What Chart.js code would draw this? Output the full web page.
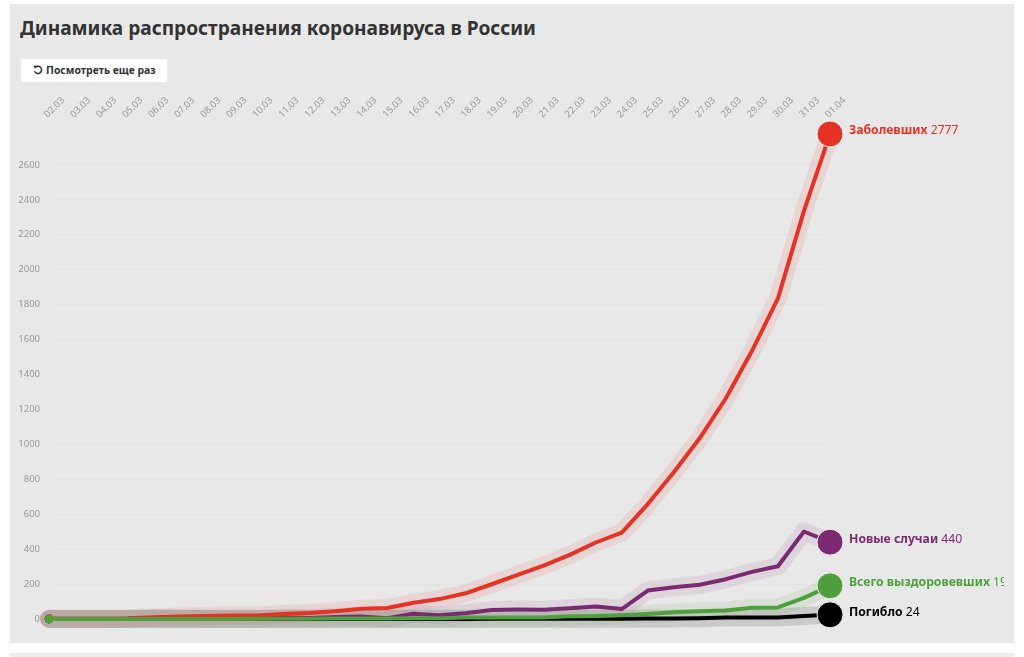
<!DOCTYPE html>
<html lang="ru">
<head>
<meta charset="utf-8">
<title>Динамика распространения коронавируса в России</title>
<script src="https://cdn.jsdelivr.net/npm/chart.js@4"></script>
<style>
html,body{margin:0;padding:0;background:#fff;width:1024px;height:657px;overflow:hidden;font-family:"Noto Sans",sans-serif}
#panel{position:absolute;left:10px;top:4px;width:1004px;height:639px;background:#e8e8e8}
#next{position:absolute;left:10px;top:653px;width:1004px;height:4px;background:#eee}
h1{position:absolute;left:20px;top:14px;margin:0;font-size:19.1px;line-height:28px;font-weight:700;color:#333}
#replay{position:absolute;left:21px;top:59px;width:146px;height:23px;background:#fff;border-radius:1px;font-size:10.4px;font-weight:700;line-height:23px;color:#333;white-space:nowrap}
#replay svg{position:absolute;left:12px;top:6px}
#replay span{position:absolute;left:25px}
#wrap{position:absolute;left:10px;top:85px;width:994px;height:558px}
</style>
</head>
<body>
<div id="panel"></div>
<div id="next"></div>
<h1>Динамика распространения коронавируса в России</h1>
<div id="replay">
<svg width="10" height="10" viewBox="0 0 10 10"><path d="M2.6 2.2A3.6 3.6 0 1 1 1.6 6.2" fill="none" stroke="#333" stroke-width="1.5"/><path d="M0.6 0.6L4.4 0.9L1.6 3.8Z" fill="#333"/></svg>
<span>Посмотреть еще раз</span>
</div>
<div id="wrap"><canvas id="chart" width="994" height="558"></canvas></div>
<script>
var dates=["02.03","03.03","04.03","05.03","06.03","07.03","08.03","09.03","10.03","11.03","12.03","13.03","14.03","15.03","16.03","17.03","18.03","19.03","20.03","21.03","22.03","23.03","24.03","25.03","26.03","27.03","28.03","29.03","30.03","31.03","01.04"];
var yTicks=[0,200,400,600,800,1000,1200,1400,1600,1800,2000,2200,2400,2600];
var cases=[3,3,3,4,10,14,17,20,20,28,34,45,59,63,93,114,147,199,253,306,367,438,495,658,840,1036,1264,1534,1836,2337,2777];
var newCases=[0,0,0,1,6,4,3,3,0,8,6,11,14,4,30,21,33,52,54,53,61,71,57,163,182,196,228,270,302,501,440];
var recovered=[0,0,0,0,0,0,0,0,1,2,2,3,3,3,5,5,8,9,9,9,16,17,22,29,38,45,49,64,66,121,190];
var deaths=[0,0,0,0,0,0,0,0,0,0,0,0,0,0,0,0,0,1,1,1,1,1,1,3,3,4,8,8,9,17,24];

var red="#e63224",purple="#7b2a72",green="#4ea03f",black="#000000";

// draw order: first in this list ends up at the bottom
var series=[
    {name:"Погибло",data:deaths,color:black,halo:"rgba(0,0,0,0.13)",labelDy:-2},
    {name:"Новые случаи",data:newCases,color:purple,halo:"rgba(123,42,114,0.1)",labelDy:-3},
    {name:"Заболевших",data:cases,color:red,halo:"rgba(230,50,36,0.1)",labelDy:-3.5},
    {name:"Всего выздоровевших",data:recovered,color:green,halo:"rgba(78,160,63,0.1)",labelDy:-3}
];

var datasets=[];
series.forEach(function(s,i){
    // wide pale band under every line
    datasets.push({
        label:s.name+" фон",data:s.data,borderColor:s.halo,borderWidth:18,borderCapStyle:"round",
        borderJoinStyle:"round",pointRadius:0,tension:0,clip:false,order:20-i
    });
});
series.forEach(function(s,i){
    datasets.push({
        label:s.name,data:s.data,borderColor:s.color,borderWidth:4,borderJoinStyle:"round",tension:0,clip:false,order:10-i,
        pointBackgroundColor:s.color,pointBorderColor:function(c){return c.dataIndex===dates.length-1?"#efefef":s.color},pointBorderWidth:1,
        pointRadius:function(c){
            if(c.dataIndex===0)return 4;
            return c.dataIndex===dates.length-1?13:0;
        }
    });
});

var endLabels={
    id:"endLabels",
    afterDatasetsDraw:function(chart){
        var ctx=chart.ctx,x=chart.scales.x,y=chart.scales.y,last=dates.length-1;
        ctx.save();
        ctx.textBaseline="middle";
        series.forEach(function(s){
            var px=x.getPixelForValue(last)+19,py=y.getPixelForValue(s.data[last])+s.labelDy;
            ctx.fillStyle=s.color;
            ctx.font="700 12.2px 'Noto Sans'";
            ctx.fillText(s.name,px,py);
            var w=ctx.measureText(s.name+" ").width;
            ctx.font="400 12.2px 'Noto Sans'";
            ctx.fillText(String(s.data[last]),px+w,py);
        });
        ctx.restore();
    }
};

new Chart(document.getElementById("chart").getContext("2d"),{
    type:"line",
    data:{labels:dates,datasets:datasets},
    plugins:[endLabels],
    options:{
        responsive:false,
        animation:false,
        layout:{padding:{left:0,right:174,top:0,bottom:24}},
        plugins:{legend:{display:false},tooltip:{enabled:false}},
        scales:{
            x:{
                position:"top",
                offset:false,
                afterFit:function(a){a.height=49},
                grid:{display:false},
                border:{display:false},
                ticks:{autoSkip:false,minRotation:45,maxRotation:45,padding:6,labelOffset:5,color:"#999",font:{family:"Noto Sans",size:9.5}}
            },
            y:{
                min:0,max:2777,
                afterFit:function(a){a.width=39},
                afterBuildTicks:function(a){a.ticks=yTicks.map(function(v){return {value:v}})},
                grid:{color:"#e3e3e3",lineWidth:1,drawTicks:false},
                border:{color:"#e3e3e3"},
                ticks:{padding:9,color:"#999",font:{family:"Noto Sans",size:9.5},callback:function(v){return String(v)}}
            }
        }
    }
});
</script>
</body>
</html>
